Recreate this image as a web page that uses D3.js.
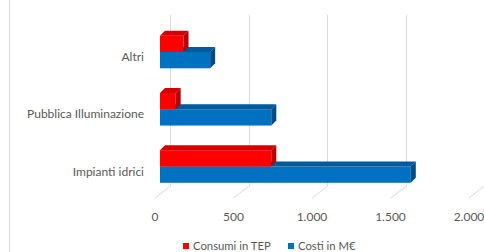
<!DOCTYPE html>
<html>
<head>
  <meta charset="utf-8" />
  <script src="https://cdn.jsdelivr.net/npm/d3@7/dist/d3.min.js"></script>
  <style>
    body { margin: 0; background: #fff; }
    svg { display: block; font-family: Lato, "Open Sans", sans-serif; }
    .grid { stroke: #d9d9d9; stroke-width: 1px; fill: none; }
    .lbl { fill: #595959; font-size: 12px; }
    .leg text { font-size: 11.3px; }
  </style>
</head>
<body>
<script>
  "use strict";

  var categories = ["Altri", "Pubblica Illuminazione", "Impianti idrici"];
  var consumi = [150, 100, 710];   // Consumi in TEP
  var costi = [320, 710, 1600];    // Costi in M€
  var ticks = [0, 500, 1000, 1500, 2000];
  var seriesNames = ["Consumi in TEP", "Costi in M€"];
  var seriesColors = ["#ff0000", "#0070c0"];
  var sideColors = ["#b80000", "#004c84"];
  var topColors = ["#d40000", "#005a9c"];

  var width = 484, height = 252;
  var depth = { x: 5, y: -5 };       // bar thickness
  var floorY = 186, floorDepth = 12;

  var it = d3.formatLocale({ decimal: ",", thousands: ".", grouping: [3], currency: ["", "€"] });
  var fmt = it.format(",d");

  var xBack = d3.scaleLinear().domain([0, 2000]).range([170, 484]);
  var xFront = d3.scaleLinear().domain([0, 2000]).range([155, 469]);
  var xBar = d3.scaleLinear().domain([0, 2000]).range([160, 473.5]);

  var yCat = d3.scalePoint().domain(categories).range([52, 166.5]);
  var ySub = d3.scaleBand().domain([0, 1]).range([-16.3, 16.3]);

  var svg = d3.select("body").append("svg")
    .attr("width", width).attr("height", height);

  // chart border (left edge visible)
  svg.append("line").attr("class", "grid")
    .attr("x1", 9.5).attr("x2", 9.5).attr("y1", 0).attr("y2", height);

  // back wall gridlines + floor lines
  var g = svg.append("g");
  ticks.forEach(function(t) {
    var xb = Math.round(xBack(t)) + 0.5;
    g.append("line").attr("class", "grid")
      .attr("x1", xb).attr("x2", xb).attr("y1", 15).attr("y2", floorY);
    g.append("line").attr("class", "grid")
      .attr("x1", xb).attr("y1", floorY)
      .attr("x2", xFront(t)).attr("y2", floorY + floorDepth);
    g.append("text").attr("class", "lbl")
      .attr("x", xFront(t)).attr("y", 221)
      .attr("text-anchor", "middle")
      .text(fmt(t));
  });

  // category labels
  svg.selectAll("text.cat").data(categories).enter().append("text")
    .attr("class", "lbl cat")
    .attr("x", 144)
    .attr("y", function(d) { return yCat(d) + 9; })
    .attr("text-anchor", "end")
    .text(function(d) { return d; });

  // 3D bars: draw blue (series 1) first, then red on top
  var series = [consumi, costi];
  [1, 0].forEach(function(s) {
    categories.forEach(function(c, i) {
      var x0 = xBar(0), x1 = xBar(series[s][i]);
      var y = yCat(c) + ySub(s), h = ySub.bandwidth();
      var bg = svg.append("g");
      bg.append("rect")
        .attr("x", x0).attr("y", y).attr("width", x1 - x0).attr("height", h)
        .attr("fill", seriesColors[s]);
      bg.append("path")
        .attr("d", "M" + x0 + "," + y + "L" + (x0 + depth.x) + "," + (y + depth.y) +
          "L" + (x1 + depth.x) + "," + (y + depth.y) + "L" + x1 + "," + y + "Z")
        .attr("fill", topColors[s]);
      bg.append("path")
        .attr("d", "M" + x1 + "," + y + "L" + (x1 + depth.x) + "," + (y + depth.y) +
          "L" + (x1 + depth.x) + "," + (y + h + depth.y) + "L" + x1 + "," + (y + h) + "Z")
        .attr("fill", sideColors[s]);
    });
  });

  // legend
  var legX = [183, 288];
  var leg = svg.selectAll("g.leg").data(seriesNames).enter().append("g")
    .attr("class", "leg")
    .attr("transform", function(d, i) { return "translate(" + legX[i] + ",243)"; });
  leg.append("rect").attr("width", 6).attr("height", 6)
    .attr("fill", function(d, i) { return seriesColors[i]; });
  leg.append("text").attr("class", "lbl")
    .attr("x", 10).attr("y", 7)
    .text(function(d) { return d; });
</script>
</body>
</html>
